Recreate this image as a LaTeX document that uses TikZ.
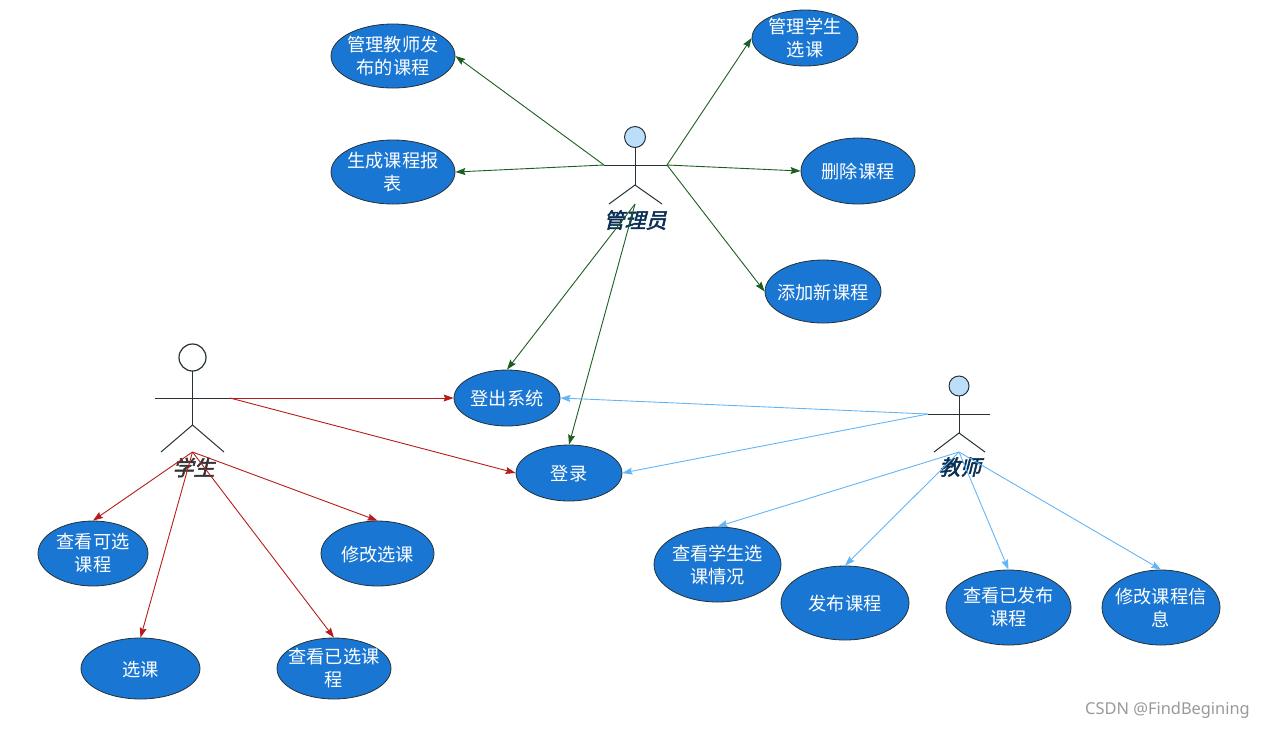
\documentclass[tikz,border=0pt]{standalone}
\usepackage{fontspec}
\setmainfont{Noto Sans CJK SC}
\newfontfamily\actorfont[FakeSlant=0.25,FakeBold=2.5]{Noto Sans CJK SC}
\setsansfont{Noto Sans}
\usetikzlibrary{arrows.meta,shapes.geometric}
\definecolor{usecaseblue}{HTML}{1976D2}
\definecolor{actorline}{HTML}{263238}
\definecolor{adminline}{HTML}{1B5E20}
\definecolor{studentline}{HTML}{B71C1C}
\definecolor{teacherline}{HTML}{64B5F6}
\definecolor{headblue}{HTML}{BBDEFB}
\tikzset{
    usecase/.style={draw=actorline,fill=usecaseblue,ellipse,text=white,font=\fontsize{18.2}{23}\selectfont,
        align=center,inner xsep=-30pt,inner ysep=-20pt,line width=0.8pt},
    oneline/.style={usecase,text height=17.8pt,text depth=2pt},
    actorbody/.style={draw=actorline,line width=1pt},
    actorname/.style={font=\actorfont\fontsize{21}{24}\selectfont},
    adminarrow/.style={draw=adminline,line width=0.9pt,-{Stealth[length=10pt,width=7pt,inset=1.5pt]}},
    studentarrow/.style={draw=studentline,line width=0.9pt,-{Stealth[length=10pt,width=7pt,inset=1.5pt]}},
    teacherarrow/.style={draw=teacherline,line width=0.9pt,-{Stealth[length=10pt,width=7pt,inset=1.5pt]}},
}
\begin{document}
\begin{tikzpicture}[x=1pt,y=-1pt]
        \useasboundingbox (0,0) rectangle (1265,729);
        % admin
        \begin{scope}[shift={(635,137)}]
            \node[circle,draw=actorline,fill=headblue,line width=1pt,minimum size=21pt,inner sep=0pt] (adminhead) at (0,0) {};
            \coordinate (adminneck) at (0,10.5);
            \coordinate (adminhip) at (0,48);
            \coordinate (adminl) at (-31,28);
            \coordinate (adminr) at (32,28);
            \coordinate (adminfoot) at (0,67);
            \draw[actorbody] (adminneck) -- (adminhip);
            \draw[actorbody] (adminl) -- (adminr);
            \draw[actorbody] (-26,67) -- (adminhip) -- (27,67);
            \node[actorname,text=usecaseblue!40!black] (adminname) at (0,83) {管理员};
        \end{scope}
        % student
        \begin{scope}[shift={(192.5,357.5)}]
            \node[circle,draw=actorline,fill=white,line width=1.2pt,minimum width=26pt,minimum height=27pt,inner sep=0pt] (studenthead) at (0,0) {};
            \coordinate (studentneck) at (0,13.5);
            \coordinate (studenthip) at (0,67.5);
            \coordinate (studentl) at (-37.5,40.5);
            \coordinate (studentr) at (37.5,40.5);
            \coordinate (studentfoot) at (0,94.5);
            \draw[actorbody] (studentneck) -- (studenthip);
            \draw[actorbody] (studentl) -- (studentr);
            \draw[actorbody] (-31.5,94.5) -- (studenthip) -- (31.5,94.5);
            \node[actorname,text=black!80] (studentname) at (1,110) {学生};
        \end{scope}
        % teacher
        \begin{scope}[shift={(959,386)}]
            \node[circle,draw=actorline,fill=headblue,line width=1pt,minimum size=20pt,inner sep=0pt] (teacherhead) at (0,0) {};
            \coordinate (teacherneck) at (0,10);
            \coordinate (teacherhip) at (0,47);
            \coordinate (teacherl) at (-31,28);
            \coordinate (teacherr) at (31,28);
            \coordinate (teacherfoot) at (0,66);
            \draw[actorbody] (teacherneck) -- (teacherhip);
            \draw[actorbody] (teacherl) -- (teacherr);
            \draw[actorbody] (-25,66) -- (teacherhip) -- (26,66);
            \node[actorname,text=usecaseblue!40!black] (teachername) at (1,81) {教师};
        \end{scope}
        % use cases
        \node[usecase,minimum width=124pt,minimum height=64pt] (mteacher) at (393,56) {管理教师发\\布的课程};
        \node[usecase,minimum width=124pt,minimum height=64pt] (report) at (393,172) {生成课程报\\表};
        \node[usecase,minimum width=106pt,minimum height=56pt] (mstudent) at (805,38) {管理学生\\选课};
        \node[oneline,minimum width=114pt,minimum height=66pt] (delcourse) at (858,171) {删除课程};
        \node[oneline,minimum width=116pt,minimum height=63pt] (addcourse) at (823,291.5) {添加新课程};
        \node[oneline,minimum width=106pt,minimum height=56pt] (logout) at (507,398) {登出系统};
        \node[oneline,minimum width=106pt,minimum height=56pt] (login) at (569,473) {登录};
        \node[usecase,minimum width=110pt,minimum height=65pt] (viewopen) at (93,553.5) {查看可选\\课程};
        \node[oneline,minimum width=113pt,minimum height=65pt] (editsel) at (377.5,553.5) {修改选课};
        \node[oneline,minimum width=119pt,minimum height=61pt] (select) at (140.5,668.5) {选课};
        \node[usecase,minimum width=114pt,minimum height=61pt] (viewsel) at (334,668.5) {查看已选课\\程};
        \node[usecase,minimum width=127pt,minimum height=75pt] (viewstu) at (717.5,564.5) {查看学生选\\课情况};
        \node[oneline,minimum width=128pt,minimum height=74pt] (publish) at (845,603) {发布课程};
        \node[usecase,minimum width=125pt,minimum height=75pt] (viewpub) at (1008.5,607.5) {查看已发布\\课程};
        \node[usecase,minimum width=118pt,minimum height=75pt] (editinfo) at (1161,607.5) {修改课程信\\息};
        % admin links
        \draw[adminarrow] (adminl) -- (mteacher.east);
        \draw[adminarrow] (adminl) -- (report.east);
        \draw[adminarrow] (adminr) -- (mstudent.west);
        \draw[adminarrow] (adminr) -- (delcourse.west);
        \draw[adminarrow] (adminr) -- (addcourse.west);
        \draw[adminarrow] (adminfoot) -- (logout.north);
        \draw[adminarrow] (adminfoot) -- (login.north);
        % student links
        \draw[studentarrow] (studentr) -- (logout.west);
        \draw[studentarrow] (studentr) -- (login.west);
        \draw[studentarrow] (studentfoot) -- (viewopen.north);
        \draw[studentarrow] (studentfoot) -- (editsel.north);
        \draw[studentarrow] (studentfoot) -- (select.north);
        \draw[studentarrow] (studentfoot) -- (viewsel.north);
        % teacher links
        \draw[teacherarrow] (teacherl) -- (logout.east);
        \draw[teacherarrow] (teacherl) -- (login.east);
        \draw[teacherarrow] (teacherfoot) -- (viewstu.north);
        \draw[teacherarrow] (teacherfoot) -- (publish.north);
        \draw[teacherarrow] (teacherfoot) -- (viewpub.north);
        \draw[teacherarrow] (teacherfoot) -- (editinfo.north);
        \node[text=black!40,font=\sffamily\fontsize{16.4}{18}\selectfont,anchor=east,inner sep=0pt] (mark) at (1250,710) {CSDN @FindBegining};
    \end{tikzpicture}
\end{document}
